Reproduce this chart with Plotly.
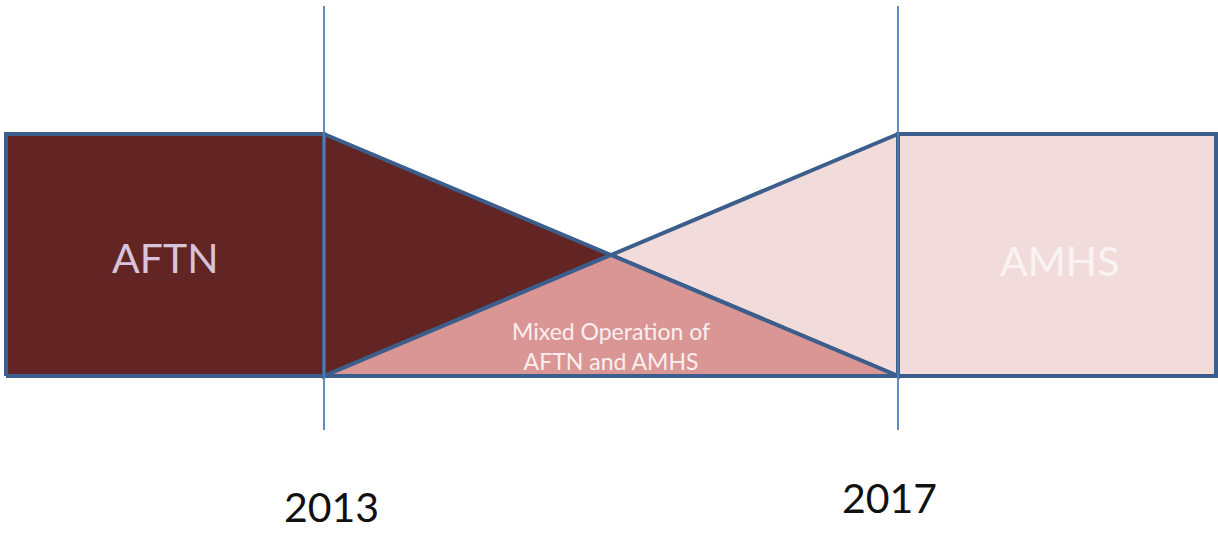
import plotly.graph_objects as go

# Data
years = [2013, 2017]
year_labels = ["2013", "2017"]
phases = ["AFTN", "Mixed Operation of<br>AFTN and AMHS", "AMHS"]
phase_span = 2.216  # years shown before first / after last milestone

# Styling
DARK = "#632523"
LIGHT = "#F2DCDB"
MID = "#D99694"
EDGE = "#3B5E8C"
VLINE = "#4F81BD"
FONT = "Lato, Open Sans, sans-serif"

y0, y1 = 0.0, 1.0  # band bottom / top
ymid = (y0 + y1) / 2
x_start = years[0] - phase_span
x_end = years[1] + phase_span
x_cross = (years[0] + years[1]) / 2

fig = go.Figure()

def poly(xs, ys, fill):
    fig.add_trace(go.Scatter(x=xs, y=ys, mode="lines", fill="toself",
                             fillcolor=fill, line=dict(color=EDGE, width=4),
                             hoverinfo="skip", showlegend=False))

# AFTN rectangle
poly([x_start, years[0], years[0], x_start, x_start], [y0, y0, y1, y1, y0], DARK)
# AMHS rectangle
poly([years[1], x_end, x_end, years[1], years[1]], [y0, y0, y1, y1, y0], LIGHT)
# transition triangles
poly([years[0], x_cross, years[0], years[0]], [y1, ymid, y0, y1], DARK)
poly([years[1], x_cross, years[1], years[1]], [y1, ymid, y0, y1], LIGHT)
poly([years[0], x_cross, years[1], years[0]], [y0, ymid, y0, y0], MID)

# vertical milestone lines
for yr in years:
    fig.add_trace(go.Scatter(x=[yr, yr], y=[-0.223, 1.529], mode="lines",
                             line=dict(color=VLINE, width=1.8),
                             hoverinfo="skip", showlegend=False))

# phase labels
fig.add_annotation(x=(x_start + years[0]) / 2, y=0.488, text=phases[0], showarrow=False,
                   font=dict(family=FONT, size=41, color="#D8C4DA"))
fig.add_annotation(x=(years[1] + x_end) / 2 + 0.02, y=0.479, text=phases[2], showarrow=False,
                   font=dict(family=FONT, size=41, color="#FAF3F3"))
fig.add_annotation(x=x_cross, y=0.124, text=phases[1], showarrow=False,
                   font=dict(family=FONT, size=23, color="#FBEFEF"))

# year labels
fig.add_annotation(x=years[0] + 0.05, y=-0.54, text=year_labels[0], showarrow=False,
                   font=dict(family=FONT, size=41, color="#111111"))
fig.add_annotation(x=years[1] - 0.056, y=-0.50, text=year_labels[1], showarrow=False,
                   font=dict(family=FONT, size=41, color="#111111"))

# pixel mapping: x 324 -> 2013, 898 -> 2017 ; y 376 -> 0, 134 -> 1
ppx = (898 - 324) / (years[1] - years[0])
ppy = 376 - 134
fig.update_layout(
    width=1218, height=533,
    margin=dict(l=0, r=0, t=0, b=0),
    paper_bgcolor="white", plot_bgcolor="white",
    xaxis=dict(range=[years[0] - 324 / ppx, years[1] + (1218 - 898) / ppx],
               visible=False, fixedrange=True),
    yaxis=dict(range=[-(533 - 376) / ppy, 376 / ppy],
               visible=False, fixedrange=True),
)

fig.write_html("out.html",
               config={"displayModeBar": False},
               post_script="document.body.style.margin='0';document.body.style.overflow='hidden';")
